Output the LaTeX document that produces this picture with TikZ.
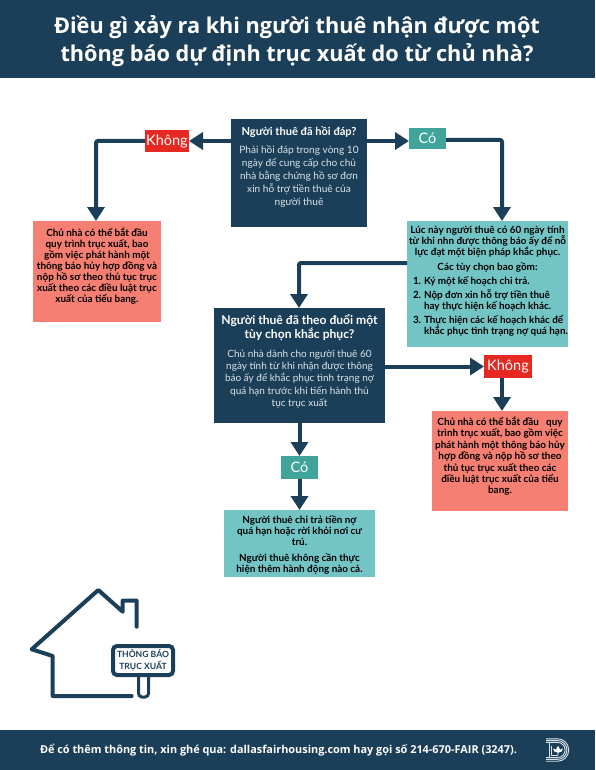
\documentclass[tikz,border=0pt]{standalone}
\usepackage{fontspec}
\setmainfont{Lato}
\newfontfamily\opensans{Open Sans}
\usetikzlibrary{arrows.meta,calc}
\definecolor{navy}{HTML}{1B3F58}
\definecolor{redlabel}{HTML}{E52822}
\definecolor{coral}{HTML}{F47F72}
\definecolor{tealbox}{HTML}{73C5C5}
\definecolor{teallabel}{HTML}{40A49B}
\definecolor{softwhite}{HTML}{DCE3E8}
\newcommand{\bxt}[4]{\parbox[c][#2pt][t]{#1pt}{\vspace*{#3pt}\centering #4}}
\newcommand{\bodyfont}{\fontsize{10.1}{13}\selectfont}
\newcommand{\noticefont}{\fontsize{9.9}{11}\bfseries\selectfont}
\newcommand{\headfont}{\fontsize{11.1}{14}\bfseries\selectfont}
\newcommand{\listline}[2]{\makebox[157pt][l]{\hspace{4pt}\makebox[11pt][l]{#1}#2}}
\tikzset{
  flowbox/.style={inner sep=0pt,outer sep=0pt,anchor=north west},
  darkbox/.style={flowbox,fill=navy,text=softwhite},
  redbox/.style={flowbox,fill=coral,text=black},
  tealpanel/.style={flowbox,fill=tealbox,text=black},
  yeslabel/.style={fill=teallabel,text=white,inner sep=0pt,outer sep=0pt,font=\fontsize{14.5}{16}\selectfont},
  nolabel/.style={fill=redlabel,text=white,inner sep=0pt,outer sep=0pt,font=\fontsize{14.5}{16}\selectfont},
  flow/.style={draw=navy,line width=4pt,rounded corners=2pt,-{Triangle[length=14pt,width=17pt]}},
  house/.style={draw=navy,line width=4pt,line cap=round,line join=round},
  logoline/.style={draw=softwhite,line width=0.9pt}
}
\begin{document}
\begin{tikzpicture}[x=1pt,y=-1pt]
\useasboundingbox (0,0) rectangle (595,770);
% bands
\node[flowbox,fill=navy,minimum width=595pt,minimum height=78pt,text=white] (header) at (0,0) {};
\node[flowbox,fill=navy,minimum width=595pt,minimum height=40pt] (footer) at (0,730) {};
\node[text=white,align=center,font=\opensans\fontsize{21.7}{28}\bfseries\selectfont,inner sep=0pt] (title) at (297,41) {Điều gì xảy ra khi người thuê nhận được một\\thông báo dự định trục xuất do từ chủ nhà?};
\node[text=white,font=\opensans\fontsize{10.9}{13}\bfseries\selectfont,inner sep=0pt] (foot) at (278.5,750.5) {Để có thêm thông tin, xin ghé qua: dallasfairhousing.com hay gọi số 214-670-FAIR (3247).};
% boxes
\node[darkbox] (b1) at (231,119) {\bxt{136}{108}{7.5}{{\headfont\textcolor{white}{Người thuê đã hồi đáp?}\par}\vspace{5pt}\bodyfont Phải hồi đáp trong vòng 10\\ngày để cung cấp cho chủ\\nhà bằng chứng hồ sơ đơn\\xin hỗ trợ tiền thuê của\\người thuê}};
\node[redbox] (r1) at (33,221) {\bxt{128}{101}{6.5}{\noticefont Chủ nhà có thể bắt đầu\\quy trình trục xuất, bao\\gồm việc phát hành một\\thông báo hủy hợp đồng và\\nộp hồ sơ theo thủ tục trục\\xuất theo các điều luật trục\\xuất của tiểu bang.}};
\node[tealpanel] (t1) at (407,221) {\bxt{161}{126}{5.5}{\fontsize{9.9}{10.7}\bfseries\selectfont Lúc này người thuê có 60 ngày tính\\từ khi nhn được thông báo ấy để nỗ\\lực đạt một biện pháp khắc phục.\\[4.5pt]Các tùy chọn bao gồm:\\[3.5pt]\listline{1.}{Ký một kế hoạch chi trả.}\\[3.5pt]\listline{2.}{Nộp đơn xin hỗ trợ tiền thuê}\\\listline{}{hay thực hiện kế hoạch khác.}\\[3.5pt]\listline{3.}{Thực hiện các kế hoạch khác để}\\\listline{}{khắc phục tình trạng nợ quá hạn.}}};
\node[darkbox] (b2) at (214,308) {\bxt{171}{115}{6.5}{{\fontsize{12.1}{14}\bfseries\selectfont\textcolor{white}{Người thuê đã theo đuổi một\\tùy chọn khắc phục?}\par}\vspace{6.5pt}\fontsize{10}{12.3}\selectfont Chủ nhà dành cho người thuê 60\\ngày tính từ khi nhận được thông\\báo ấy để khắc phục tình trạng nợ\\quá hạn trước khi tiến hành thủ\\tục trục xuất}};
\node[redbox] (r2) at (432,411) {\bxt{136}{100}{6}{\fontsize{9.9}{11.4}\bfseries\selectfont Chủ nhà có thể bắt đầu\ \ \ quy\\trình trục xuất, bao gồm việc\\phát hành một thông báo hủy\\hợp đồng và nộp hồ sơ theo\\thủ tục trục xuất theo các\\điều luật trục xuất của tiểu\\bang.}};
\node[tealpanel] (t2) at (224,510) {\bxt{151}{67}{6}{\noticefont Người thuê chi trả tiền nợ\\quá hạn hoặc rời khỏi nơi cư\\trú.\\[5pt]Người thuê không cần thực\\hiện thêm hành động nào cả.}};
% labels
\node[nolabel,minimum width=44pt,minimum height=22pt] (k1) at (167,141) {Không};
\node[yeslabel,minimum width=37pt,minimum height=21pt] (c1) at (427.5,138.5) {Có};
\node[nolabel,minimum width=48pt,minimum height=23pt] (k2) at (508,366.5) {Không};
\node[yeslabel,minimum width=37pt,minimum height=23pt] (c2) at (299.5,467.5) {Có};
% connectors
\draw[flow] (b1.west |- k1) -- (k1.east);
\draw[flow] (k1.west) -| ($(r1.north)+(-1,0)$);
\coordinate (c1in) at (409,141);
\draw[flow] (b1.east |- c1in) -- (c1in);
\coordinate (t1in) at (502,221);
\draw[flow] (c1.east |- 0,140) -| (t1in);
\coordinate (b2in) at (299,308);
\draw[flow] (t1.west |- 0,263) -| (b2in);
\draw[flow] (b2.east |- k2) -- (k2.west);
\coordinate (r2in) at (502,411);
\draw[flow] (k2.south -| r2in) -- (r2in);
\draw[flow] (b2.south -| c2) -- (c2.north);
\draw[flow] (c2.south) -- (t2.north -| c2);
% house
\draw[house] (136.7,626.7) -- (136.7,600.7) -- (122.7,600.7) -- (122.7,611.7) -- (98.3,590) -- (31.7,649.3) -- (52.7,656) -- (52.7,696) -- (131.7,696);
\node[draw=navy,line width=4pt,rounded corners=4pt,minimum width=60pt,minimum height=29pt,inner sep=0pt,align=center,text=navy,font=\fontsize{8.6}{11.5}\bfseries\selectfont] (sign) at (143,660.5) {THÔNG BÁO\\TRỤC XUẤT};
\draw[navy,line width=3pt,rounded corners=3.5pt] (138.5,677) -- (138.5,697) -- (148.5,697) -- (148.5,677);
% logo
\foreach \o in {0,1.8,3.6}{
  \draw[logoline] (546,738.8+\o) -- (557.5,738.8+\o) arc[start angle=-90,end angle=90,radius=11.2-\o] -- (546,761.2-\o);
}
\draw[logoline] (551.5,745.5) -- (551.5,755.6) -- (557.5,755.6);
\draw[logoline] (549,743) -- (549,757.6);
\fill[white] (558,746) .. controls (560.5,749) and (560.5,751) .. (558.4,752.6) -- (558.4,755) -- (557.6,755) -- (557.6,752.6) .. controls (555.5,751) and (555.5,749) .. (558,746) -- cycle;
\fill[white] (553,748.5) .. controls (553,751) and (555,752.5) .. (557.6,752.6) -- (558.4,752.6) .. controls (561,752.5) and (563,751) .. (563,748.5) .. controls (561,749) and (559,750) .. (558,751) .. controls (557,750) and (555,749) .. (553,748.5) -- cycle;
\end{tikzpicture}
\end{document}
